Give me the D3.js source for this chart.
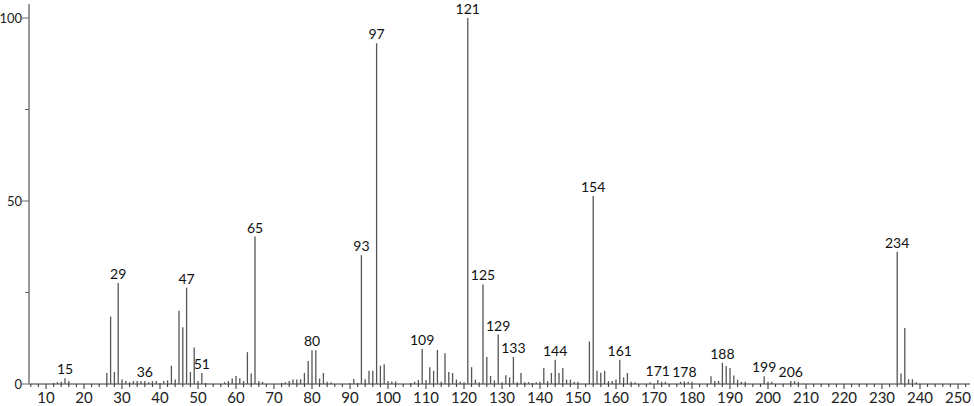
<!DOCTYPE html>
<head>
  <meta charset="utf-8">
  <script src="https://d3js.org/d3.v7.min.js"></script>
  <style>
    body { margin: 0; background: #fff; font-family: 'Lato', sans-serif; }
    .axis text { fill: #222; }
    .peakLabel { font-size: 14px; fill: #111; }
  </style>
</head>
<body>
<div id="spectrum"></div>
<script>

// m/z values and relative intensities
const mz = [12,13,14,15,16, 26,27,28,29,30,31,32,33,34,35,36,37,38,39,40,41,42,43,44,45,46,47,48,49,50,51,52,
  57,58,59,60,61,62,63,64,65,66,67, 72,73,74,75,76,77,78,79,80,81,82,83,84,85,
  90,91,92,93,94,95,96,97,98,99,100,101,102, 106,107,108,109,110,111,112,113,114,115,116,117,118,119,120,
  121,122,123,124,125,126,127,128,129,130,131,132,133,134,135,136,137,138,139,140,
  141,142,143,144,145,146,147,148,149,150, 153,154,155,156,157,158,159,160,161,162,163,164,165,
  169,171,172,173,177,178,179,180, 185,186,187,188,189,190,191,192,193,194, 199,200,201, 206,207,208,
  234,235,236,237,238,239];

const intensity = [0.3,0.5,0.6,1.6,0.8, 3,18.4,3.3,27.6,1.2,0.8,0.5,0.8,0.8,0.8,0.8,0.5,0.8,0.8,0.3,0.8,1,5,1.2,20,15.5,26.3,3.3,10,0.8,3,0.3,
  0.5,0.8,1.5,2.2,1.6,0.8,8.7,2.9,40.3,0.8,0.6, 0.3,0.5,0.8,1.2,1.2,1.3,3,6.3,9.2,9.2,1.5,3,0.6,0.5,
  0.3,1.4,0.3,35.2,1.3,3.6,3.6,93.1,5,5.4,0.8,0.7,0.7, 0.3,0.6,1.1,9.6,1.1,4.6,3.6,9.3,0.6,8.4,3.3,3,1.2,0.6,0.5,
  100,4.6,1.2,0.5,27.2,7.4,2.2,1,13.5,0.5,2.4,1.8,7.4,0.5,3,0.5,0.5,0.3,0.5,0.6,
  4.4,0.8,3,6.6,3,4.4,1.2,1.2,0.6,0.6, 11.6,51.4,3.6,3.1,3.6,0.8,0.8,1.2,6.6,1.8,3,0.6,0.5,
  0.5,1.1,0.6,0.6,0.6,0.7,0.6,0.6, 2.1,0.8,0.8,5.8,4.9,4.4,2.3,1.2,0.6,0.6, 2.1,0.6,0.6, 0.8,0.8,0.6,
  36.1,2.9,15.3,1.3,1.3,0.5];

const labelled = [15,29,36,47,51,65,80,93,97,109,121,125,129,133,144,154,161,171,178,188,199,206,234];

const xTicks = d3.range(10, 251, 10);
const yTicks = [0, 25, 50, 75, 100];
const yLabels = [0, 50, 100];

const peaks = mz.map((m, i) => ({mz: m, value: intensity[i]}));

const width = 974, height = 406;

const svg = d3.select('#spectrum')
  .append('svg')
  .attr('width', width)
  .attr('height', height);

const x = d3.scaleLinear().domain([10, 250]).range([46, 958]);
const y = d3.scaleLinear().domain([0, 100]).range([384, 18]);

// x axis: ticks every 2 units, labels every 10
const xAxis = svg.append('g')
  .attr('class', 'axis')
  .attr('transform', 'translate(0,' + y(0) + ')');

xAxis.append('line')
  .attr('x1', 29).attr('x2', 970)
  .attr('stroke', '#333').attr('stroke-width', 1);

xAxis.selectAll('.minor')
  .data(d3.range(6, 254, 2))
  .enter().append('line')
  .attr('x1', d => x(d)).attr('x2', d => x(d))
  .attr('y1', 0).attr('y2', d => d % 10 === 0 ? 5 : 3)
  .attr('stroke', '#333').attr('stroke-width', 1);

xAxis.selectAll('text')
  .data(xTicks)
  .enter().append('text')
  .attr('x', d => x(d))
  .attr('y', 19)
  .attr('text-anchor', 'middle')
  .style('font-size', '15px')
  .text(d => d);

// y axis
const yAxis = svg.append('g').attr('class', 'axis');

yAxis.append('line')
  .attr('x1', 29).attr('x2', 29)
  .attr('y1', 4).attr('y2', y(0))
  .attr('stroke', '#999').attr('stroke-width', 2);

yAxis.selectAll('.tick')
  .data(yTicks)
  .enter().append('line')
  .attr('x1', d => yLabels.includes(d) ? 22 : 25).attr('x2', 29)
  .attr('y1', d => y(d)).attr('y2', d => y(d))
  .attr('stroke', '#666').attr('stroke-width', 1);

yAxis.selectAll('text')
  .data(yLabels)
  .enter().append('text')
  .attr('x', 22)
  .attr('y', d => y(d))
  .attr('dy', '0.35em')
  .attr('text-anchor', 'end')
  .style('font-size', '13px')
  .text(d => d);

// sticks
svg.selectAll('.peak')
  .data(peaks)
  .enter().append('line')
  .attr('class', 'peak')
  .attr('x1', d => x(d.mz)).attr('x2', d => x(d.mz))
  .attr('y1', y(0)).attr('y2', d => y(d.value))
  .attr('stroke', '#555').attr('stroke-width', 1.3);

// peak labels
svg.selectAll('.peakLabel')
  .data(peaks.filter(d => labelled.includes(d.mz)))
  .enter().append('text')
  .attr('class', 'peakLabel')
  .attr('x', d => x(d.mz))
  .attr('y', d => y(d.value) - 4)
  .attr('text-anchor', 'middle')
  .text(d => d.mz);

</script>
</body>
